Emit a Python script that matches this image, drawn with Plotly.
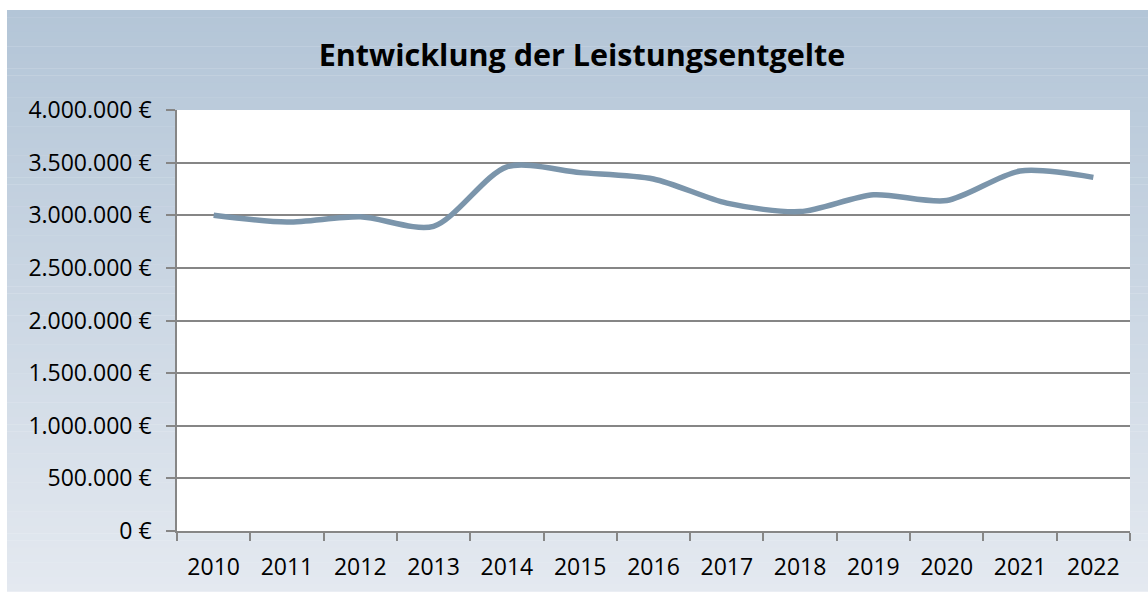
import plotly.graph_objects as go

years = ["2010", "2011", "2012", "2013", "2014", "2015", "2016",
         "2017", "2018", "2019", "2020", "2021", "2022"]
entgelte = [3000000, 2935000, 2985000, 2895000, 3460000, 3405000, 3345000,
            3115000, 3035000, 3195000, 3140000, 3420000, 3360000]
y_ticks = [0, 500000, 1000000, 1500000, 2000000, 2500000, 3000000, 3500000, 4000000]
y_tick_labels = ["0 €", "500.000 €", "1.000.000 €", "1.500.000 €", "2.000.000 €",
                 "2.500.000 €", "3.000.000 €", "3.500.000 €", "4.000.000 €"]

W, H = 1148, 594
L, R, T, B = 177, 18, 110, 61
pw, ph = W - L - R, H - T - B

def px2x(px):
    return (px - L) / pw

def py2y(py):
    return (H - B - py) / ph

top_c = (179, 197, 215)
bot_c = (228, 233, 240)
shapes = []
n = 80
y0p, y1p = 10, H
x0p, x1p = 7, W
for i in range(n):
    a = y0p + (y1p - y0p) * i / n
    b = y0p + (y1p - y0p) * (i + 1) / n
    t = (i + 0.5) / n
    c = tuple(round(top_c[k] + (bot_c[k] - top_c[k]) * t) for k in range(3))
    shapes.append(dict(type="rect", xref="paper", yref="paper",
                       x0=px2x(x0p), x1=px2x(x1p), y0=py2y(b), y1=py2y(a) + 0.001,
                       fillcolor="rgb(%d,%d,%d)" % c, line=dict(width=0), layer="below"))
shapes.append(dict(type="rect", xref="paper", yref="paper", x0=0, x1=1, y0=0, y1=1,
                   fillcolor="white", line=dict(width=0), layer="below"))

fig = go.Figure()
fig.add_trace(go.Scatter(x=years, y=entgelte, mode="lines",
                         line=dict(color="#7B95AB", width=5.5, shape="spline", smoothing=0.8),
                         hoverinfo="x+y"))

fig.update_layout(
    width=W, height=H,
    margin=dict(l=L, r=R, t=T, b=B),
    paper_bgcolor="white", plot_bgcolor="rgba(0,0,0,0)",
    shapes=shapes,
    showlegend=False,
    font=dict(family="Open Sans, sans-serif", color="#000000"),
    title=dict(text="<b>Entwicklung der Leistungsentgelte</b>",
               x=(318 + 846) / 2 / W, xanchor="center", y=1 - 55 / H, yanchor="middle",
               font=dict(size=30.5, family="Open Sans, sans-serif", color="#000000")),
    xaxis=dict(type="category", range=[-0.5, 12.5], tickson="boundaries",
               ticks="outside", ticklen=8,
               tickcolor="#868686", tickwidth=1.5, showline=True, linecolor="#868686",
               linewidth=1.5, showgrid=False, tickfont=dict(size=23), ticklabelstandoff=15),
    yaxis=dict(range=[0, 4000000], tickvals=y_ticks, ticktext=y_tick_labels,
               ticks="outside", ticklen=9, tickcolor="#868686", tickwidth=1.5,
               showline=True, linecolor="#868686", linewidth=1.5,
               showgrid=True, gridcolor="#868686", gridwidth=1.5, zeroline=False,
               tickfont=dict(size=23), ticklabelstandoff=10),
)

fig.write_html("out.html")
